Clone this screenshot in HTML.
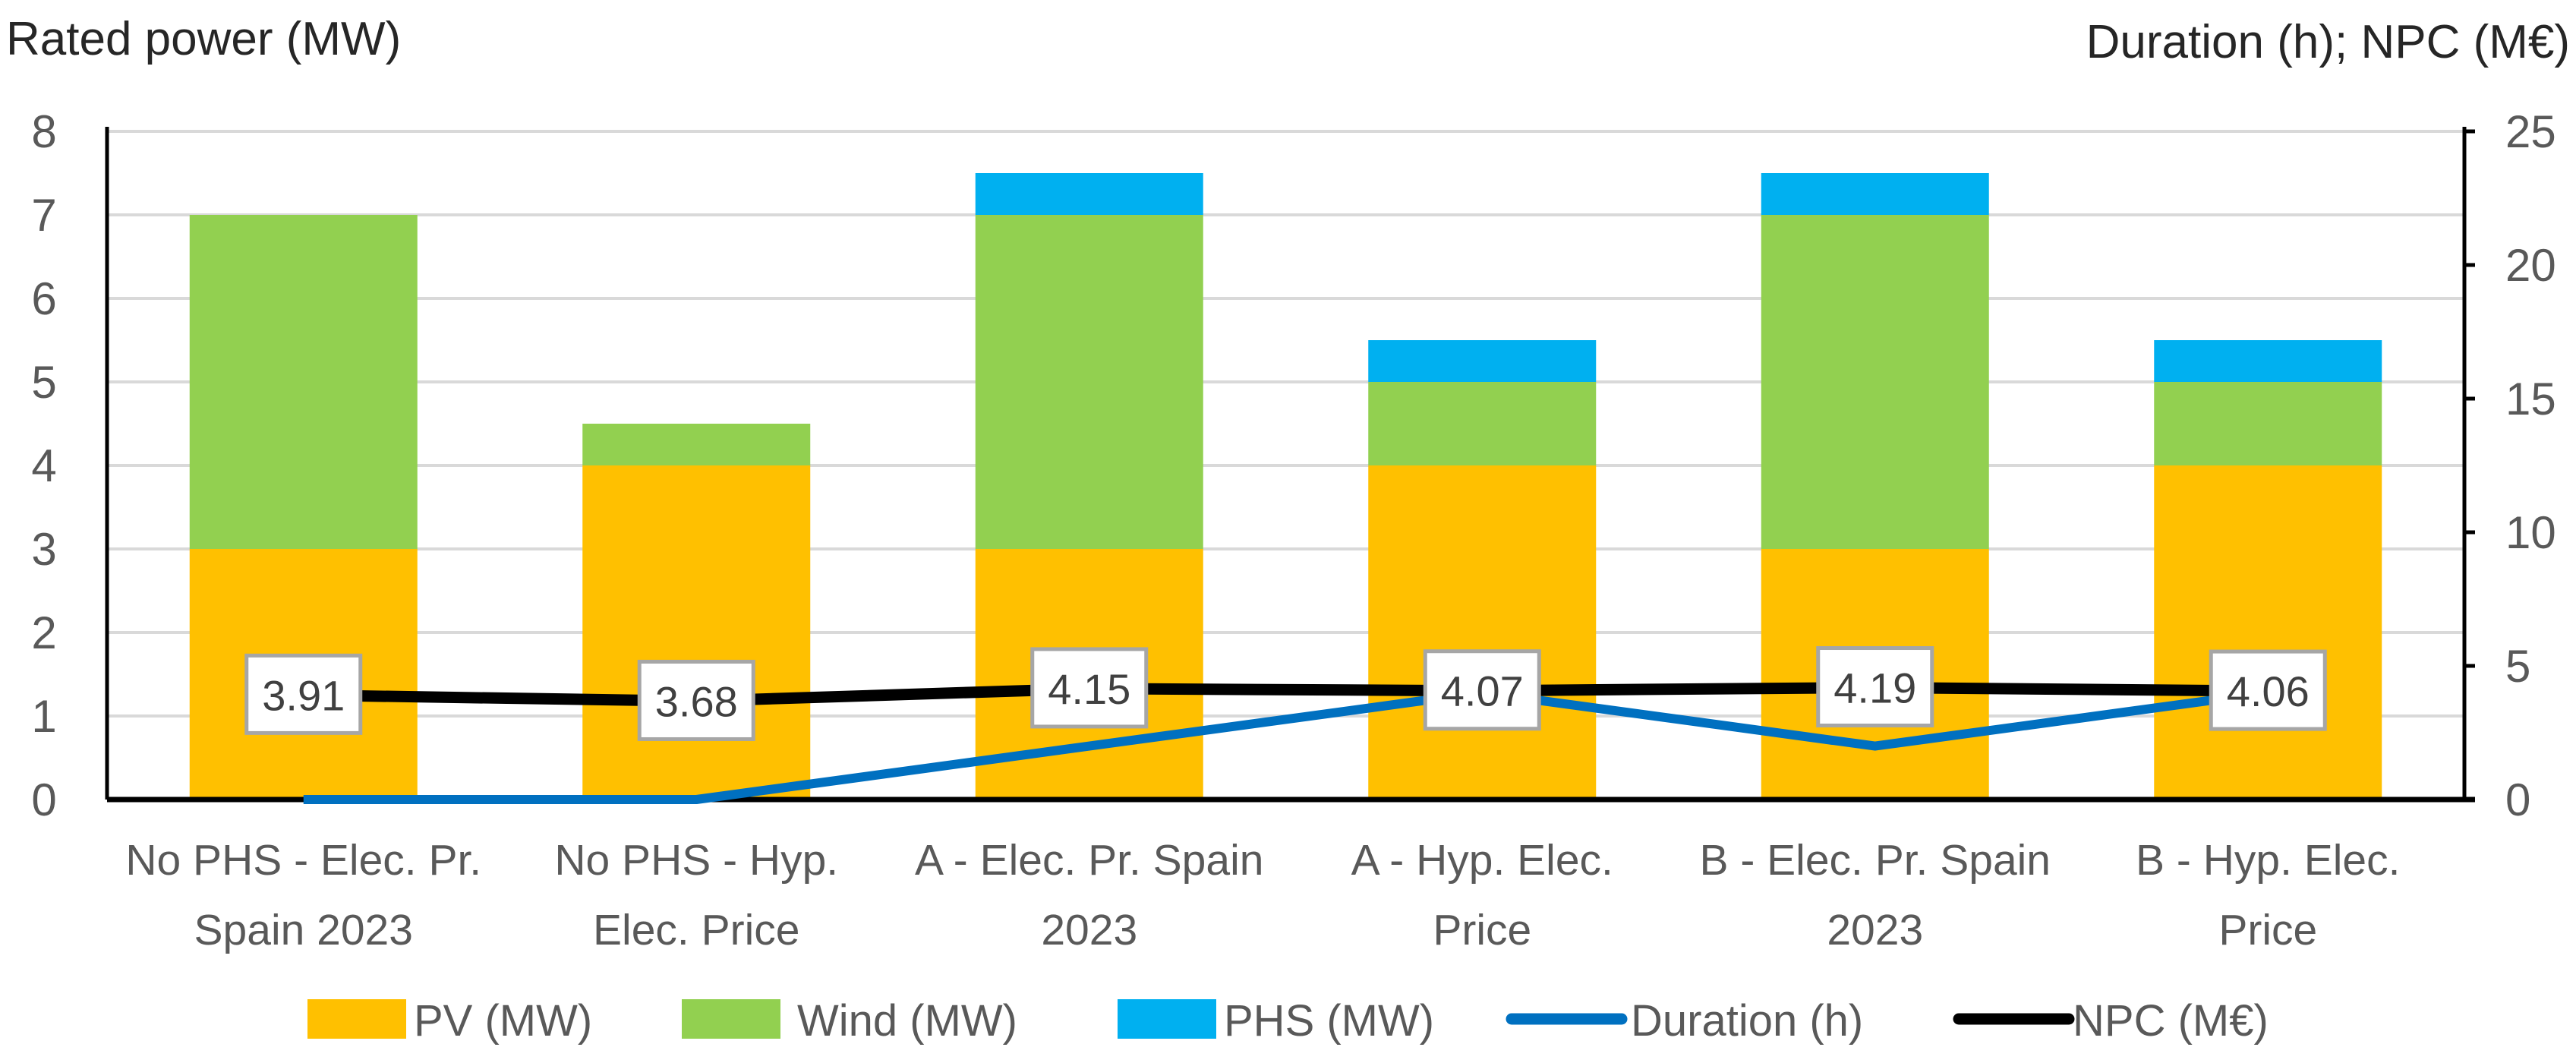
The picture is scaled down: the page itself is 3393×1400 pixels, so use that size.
<!DOCTYPE html>
<html><head><meta charset="utf-8"><style>
html,body{margin:0;padding:0;background:#fff;}
svg{display:block;font-family:"Liberation Sans",sans-serif;}
</style></head><body>
<svg id="chart" width="3393" height="1400" viewBox="0 0 3393 1400" xmlns="http://www.w3.org/2000/svg">
<text x="8" y="72" font-size="62" fill="#262626">Rated power (MW)</text>
<text x="3385" y="76" font-size="62" fill="#262626" text-anchor="end">Duration (h); NPC (M€)</text>
<g id="grid"></g><g id="bars"></g><g id="axes"></g><g id="lines"></g><g id="labels"></g><g id="legend"></g>
</svg>
<script>
const categories = [["No PHS - Elec. Pr.","Spain 2023"],["No PHS - Hyp.","Elec. Price"],["A - Elec. Pr. Spain","2023"],["A - Hyp. Elec.","Price"],["B - Elec. Pr. Spain","2023"],["B - Hyp. Elec.","Price"]];
const pv = [3,4,3,4,3,4];
const wind = [4,0.5,4,1,4,1];
const phs = [0,0,0.5,0.5,0.5,0.5];
const duration = [0,0,2,4,2,4];
const npc = [3.91,3.68,4.15,4.07,4.19,4.06];
const leftTicks = [0,1,2,3,4,5,6,7,8];
const rightTicks = [0,5,10,15,20,25];

const NS="http://www.w3.org/2000/svg";
const X0=141,X1=3246,Y0=1053,YT=173;
const yL=v=>Y0-(v/8)*(Y0-YT);
const yR=v=>Y0-(v/25)*(Y0-YT);
const band=(X1-X0)/categories.length;
const xc=i=>X0+band*(i+0.5);
const BW=300;
function mk(tag,attrs,parent){const e=document.createElementNS(NS,tag);for(const k in attrs)e.setAttribute(k,attrs[k]);parent.appendChild(e);return e;}
const g=id=>document.getElementById(id);

leftTicks.forEach(t=>{
  if(t>0){const l=mk('line',{x1:X0,x2:X1,y1:yL(t),y2:yL(t),stroke:'#d9d9d9','stroke-width':4},g('grid'));
  
  }
  const tx=mk('text',{x:58,y:yL(t)+21,'font-size':60,fill:'#595959','text-anchor':'middle'},g('axes'));tx.textContent=t;
  
  
});
rightTicks.forEach(t=>{
  const tk=mk('line',{x1:X1,x2:X1+14,y1:yR(t),y2:yR(t),stroke:'#000','stroke-width':5},g('axes'));
  
  
  const tx=mk('text',{x:3300,y:yR(t)+21,'font-size':60,fill:'#595959','text-anchor':'start'},g('axes'));tx.textContent=t;
  
  
});

const series=[[pv,'#ffc000','bar-pv'],[wind,'#92d050','bar-wind'],[phs,'#00b0f0','bar-phs']];
categories.forEach((c,i)=>{
  let base=0;
  series.forEach(([arr,col,name])=>{
    const v=arr[i];
    if(v>0){const r=mk('rect',{x:xc(i)-BW/2,y:yL(base+v),width:BW,height:yL(base)-yL(base+v),fill:col},g('bars'));
    
    }
    base+=v;
  });
  c.forEach((line,j)=>{
    const t=mk('text',{x:xc(i),y:1152+j*92,'font-size':57,fill:'#595959','text-anchor':'middle'},g('axes'));t.textContent=line;
    
    
  });
});
const la=mk('line',{x1:X0,x2:X0,y1:YT-6,y2:Y0,stroke:'#000','stroke-width':5},g('axes'));


const ra=mk('line',{x1:X1,x2:X1,y1:YT-6,y2:Y0,stroke:'#000','stroke-width':5},g('axes'));


const xa=mk('line',{x1:X0,x2:X1+14,y1:Y0,y2:Y0,stroke:'#000','stroke-width':7},g('axes'));



const dl=mk('polyline',{points:duration.map((v,i)=>xc(i)+','+yR(v)).join(' '),fill:'none',stroke:'#0070c0','stroke-width':12,'stroke-linejoin':'round'},g('lines'));


const nl=mk('polyline',{points:npc.map((v,i)=>xc(i)+','+yR(v)).join(' '),fill:'none',stroke:'#000','stroke-width':15,'stroke-linejoin':'round'},g('lines'));



npc.forEach((v,i)=>{
  const y=yR(v);
  const r=mk('rect',{x:xc(i)-75,y:y-52,width:150,height:102,fill:'#fff',stroke:'#a6a6a6','stroke-width':5},g('labels'));
  
  
  const t=mk('text',{x:xc(i),y:y+20,'font-size':56,fill:'#404040','text-anchor':'middle'},g('labels'));t.textContent=v.toFixed(2);
  
  
});

const legendItems=[['PV (MW)','#ffc000','rect',405,545],['Wind (MW)','#92d050','rect',898,1050],['PHS (MW)','#00b0f0','rect',1472,1612],['Duration (h)','#0070c0','line',1991,2148],['NPC (M€)','#000','line',2580,2730]];
legendItems.forEach(([lab,col,kind,sx,tx])=>{
  let s;
  if(kind==='rect') s=mk('rect',{x:sx,y:1316,width:130,height:52,fill:col},g('legend'));
  else s=mk('line',{x1:sx,x2:sx+145,y1:1342,y2:1342,stroke:col,'stroke-width':15,'stroke-linecap':'round'},g('legend'));
  
  
  const t=mk('text',{x:tx,y:1364,'font-size':58,fill:'#595959'},g('legend'));t.textContent=lab;
  
  
});
</script>
</body></html>
